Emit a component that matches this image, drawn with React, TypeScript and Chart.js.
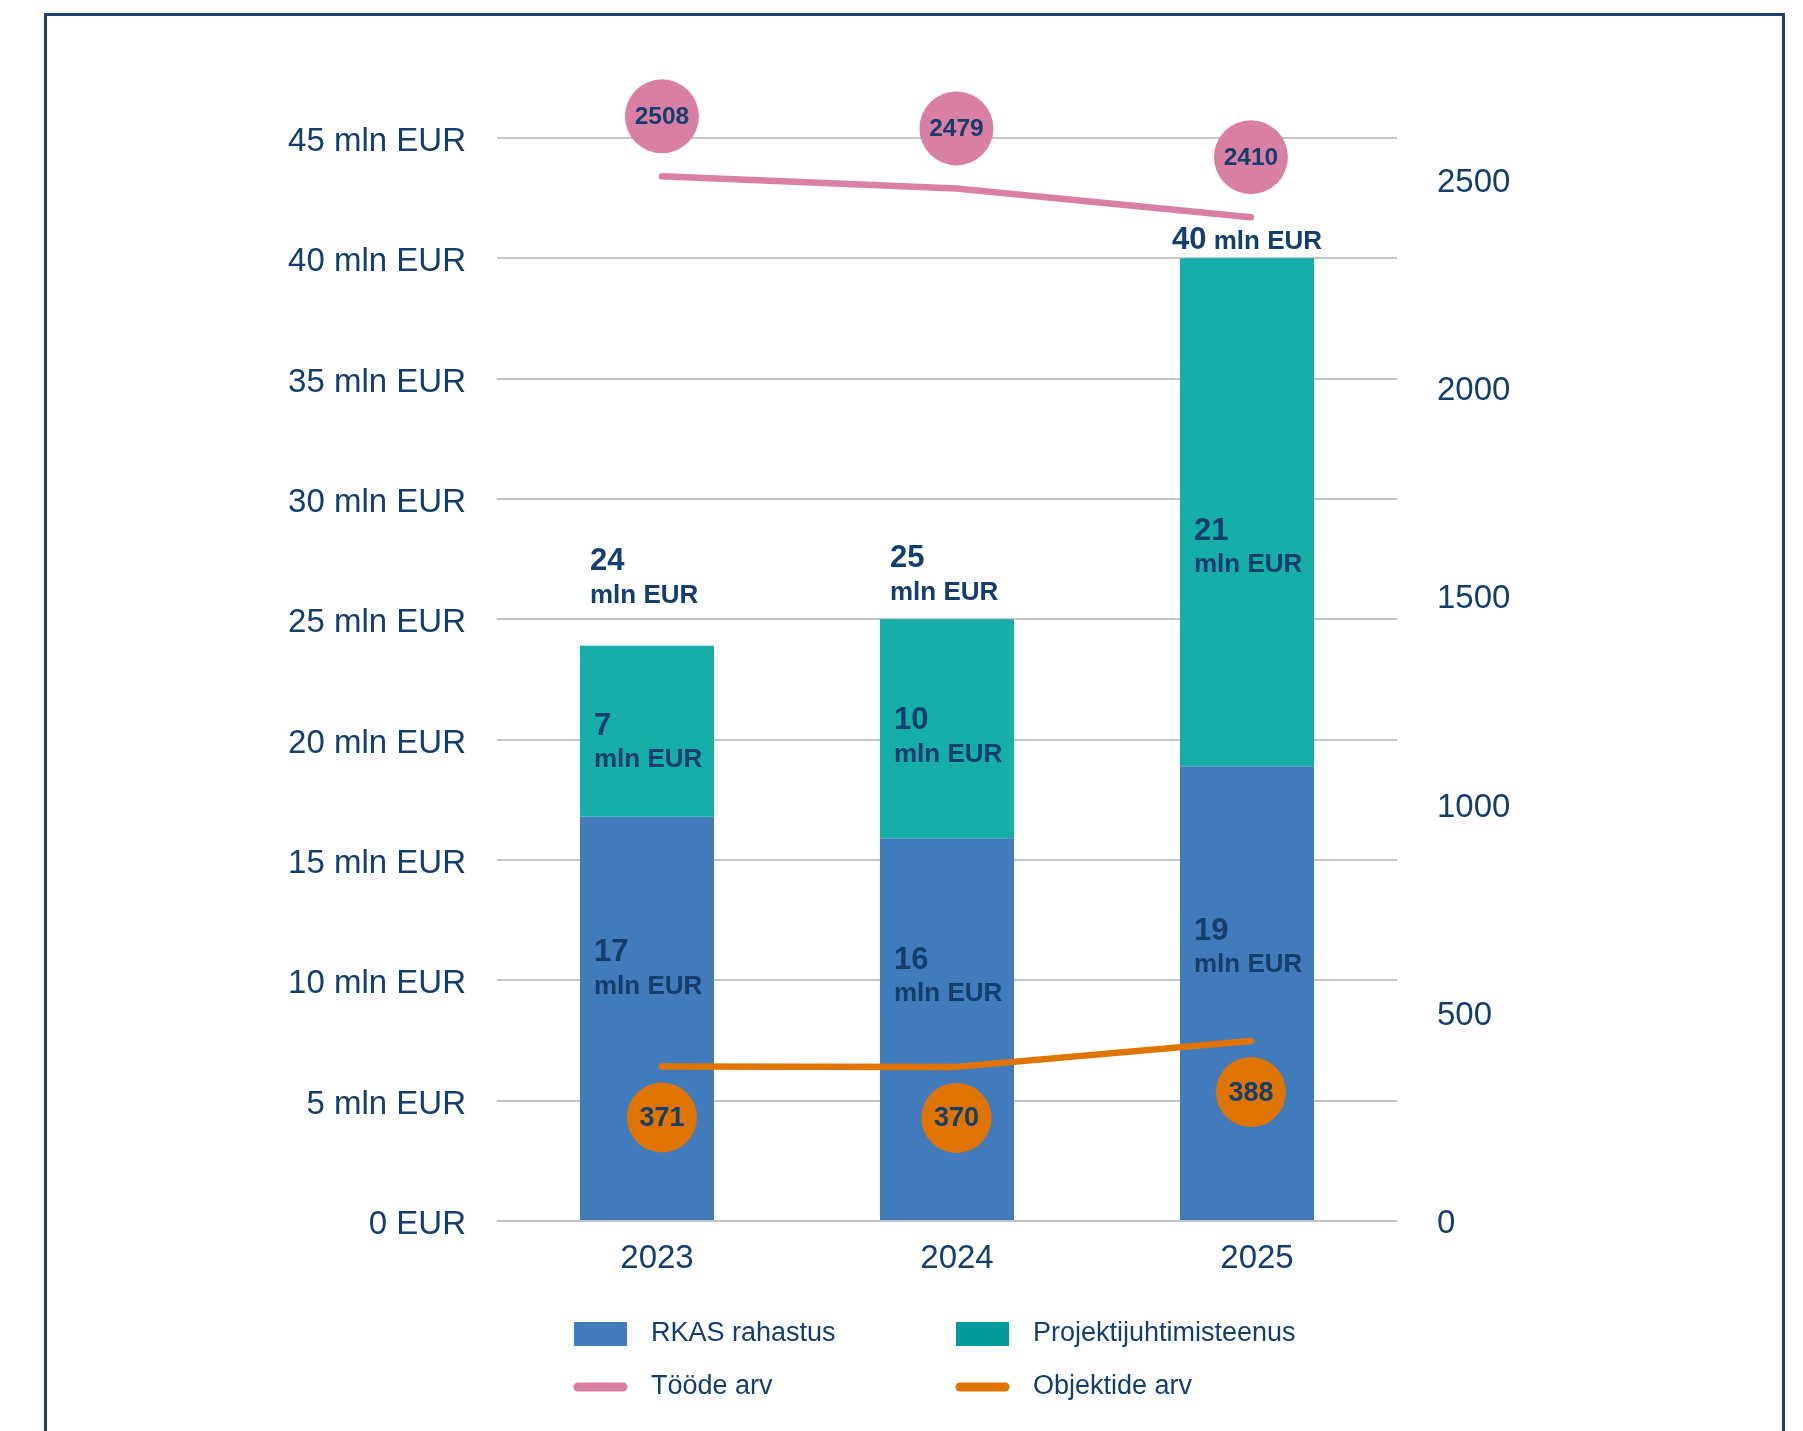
import React, { useEffect, useRef } from "react";
import { Chart, registerables } from "chart.js";

Chart.register(...registerables);

// ---- data ----
const years = ["2023", "2024", "2025"];
const rkasRahastus = [16.8, 15.9, 18.9];
const projektijuhtimisteenus = [7.1, 9.1, 21.1];
const toodeArv = [2508, 2479, 2410];
const objektideArv = [371, 370, 432];

const rkasSildid = ["17", "16", "19"];
const projektSildid = ["7", "10", "21"];
const kokkuSildid = ["24", "25", "40"];
const toodeSildid = ["2508", "2479", "2410"];
const objektideSildid = ["371", "370", "388"];

const leftAxisMax = 45;
const leftAxisStep = 5;
const rightAxisMax = 2600;
const rightTicks = [0, 500, 1000, 1500, 2000, 2500];

// ---- styles ----
const FONT = "'Liberation Sans', Arial, Helvetica, sans-serif";
const NAVY = "#143e6c";
const FRAME = "#1f3f6e";
const GRID = "#c3c6c6";
const BLUE = "#427bbb";
const TEAL = "#15aea9";
const TEAL_LEGEND = "#009b9a";
const PINK = "#d97fa3";
const ORANGE = "#e07400";

const labelPlugin = {
  id: "customLabels",
  afterDatasetsDraw(chart: any) {
    const ctx = chart.ctx;
    ctx.save();
    ctx.fillStyle = NAVY;
    const segShift: Record<number, number[]> = { 0: [-49, -52, -45], 1: [12, 9, 36] };
    const segTexts: Record<number, string[]> = { 0: rkasSildid, 1: projektSildid };
    [0, 1].forEach((di) => {
      const meta = chart.getDatasetMeta(di);
      meta.data.forEach((el: any, i: number) => {
        const p = el.getProps(["x", "y", "base", "width"], true);
        const left = p.x - p.width / 2 + 14;
        const cy = (p.y + p.base) / 2 + segShift[di][i];
        ctx.textAlign = "left";
        ctx.textBaseline = "middle";
        ctx.font = `bold 31px ${FONT}`;
        ctx.fillText(segTexts[di][i], left, cy - 17);
        ctx.font = `bold 26px ${FONT}`;
        ctx.fillText("mln EUR", left, cy + 17);
      });
    });
    // totals
    const topMeta = chart.getDatasetMeta(1);
    const totalGap = [50, 27, 20];
    const inline = [false, false, true];
    topMeta.data.forEach((el: any, i: number) => {
      const p = el.getProps(["x", "y", "base", "width"], true);
      if (inline[i]) {
        ctx.textBaseline = "alphabetic";
        ctx.font = `bold 31px ${FONT}`;
        const w1 = ctx.measureText(kokkuSildid[i]).width;
        ctx.font = `bold 26px ${FONT}`;
        const w2 = ctx.measureText(" mln EUR").width;
        const start = p.x - (w1 + w2) / 2;
        const base = p.y - totalGap[i] + 11;
        ctx.textAlign = "left";
        ctx.font = `bold 31px ${FONT}`;
        ctx.fillText(kokkuSildid[i], start, base);
        ctx.font = `bold 26px ${FONT}`;
        ctx.fillText(" mln EUR", start + w1, base);
      } else {
        const left = p.x - p.width / 2 + 10;
        ctx.textAlign = "left";
        ctx.textBaseline = "middle";
        ctx.font = `bold 31px ${FONT}`;
        ctx.fillText(kokkuSildid[i], left, p.y - totalGap[i] - 34);
        ctx.font = `bold 26px ${FONT}`;
        ctx.fillText("mln EUR", left, p.y - totalGap[i]);
      }
    });
    // bubbles
    const bubbles = [
      { di: 2, texts: toodeSildid, color: PINK, r: 37, dy: -60, size: 24.5 },
      { di: 3, texts: objektideSildid, color: ORANGE, r: 35, dy: 51, size: 27 },
    ];
    bubbles.forEach((b) => {
      const meta = chart.getDatasetMeta(b.di);
      meta.data.forEach((pt: any, i: number) => {
        const x = pt.x;
        const y = pt.y + b.dy;
        ctx.beginPath();
        ctx.arc(x, y, b.r, 0, Math.PI * 2);
        ctx.fillStyle = b.color;
        ctx.fill();
        ctx.fillStyle = NAVY;
        ctx.textAlign = "center";
        ctx.textBaseline = "middle";
        ctx.font = `bold ${b.size}px ${FONT}`;
        ctx.fillText(b.texts[i], x, y + 1);
      });
    });
    ctx.restore();
  },
  afterDraw(chart: any) {
    const ctx = chart.ctx;
    const ds = chart.data.datasets;
    const items = [
      { text: ds[0].label, kind: "box", color: BLUE, col: 0, row: 0 },
      { text: ds[1].label, kind: "box", color: TEAL_LEGEND, col: 1, row: 0 },
      { text: ds[2].label, kind: "line", color: PINK, col: 0, row: 1 },
      { text: ds[3].label, kind: "line", color: ORANGE, col: 1, row: 1 },
    ];
    const colX = [574, 956];
    const rowY = [1334, 1387];
    ctx.save();
    items.forEach((it) => {
      const x = colX[it.col];
      const y = rowY[it.row];
      if (it.kind === "box") {
        ctx.fillStyle = it.color;
        ctx.fillRect(x, y - 12, 53, 24);
      } else {
        ctx.strokeStyle = it.color;
        ctx.lineWidth = 9;
        ctx.lineCap = "round";
        ctx.beginPath();
        ctx.moveTo(x + 4, y);
        ctx.lineTo(x + 49, y);
        ctx.stroke();
      }
      ctx.fillStyle = NAVY;
      ctx.font = `27px ${FONT}`;
      ctx.textAlign = "left";
      ctx.textBaseline = "middle";
      ctx.fillText(it.text, x + 77, y);
    });
    ctx.restore();
  },
};

export default function App() {
  const canvasRef = useRef<HTMLCanvasElement | null>(null);

  useEffect(() => {
    const canvas = canvasRef.current;
    if (!canvas) return;
    const chart = new Chart(canvas, {
      type: "bar",
      data: {
        labels: years,
        datasets: [
          {
            type: "bar",
            label: "RKAS rahastus",
            data: rkasRahastus,
            backgroundColor: BLUE,
            borderWidth: 0,
            barPercentage: 0.447,
            categoryPercentage: 1,
            grouped: false,
            xAxisID: "x",
            yAxisID: "y",
            order: 1,
          },
          {
            type: "bar",
            label: "Projektijuhtimisteenus",
            data: projektijuhtimisteenus,
            backgroundColor: TEAL,
            borderWidth: 0,
            barPercentage: 0.447,
            categoryPercentage: 1,
            grouped: false,
            xAxisID: "x",
            yAxisID: "y",
            order: 1,
          },
          {
            type: "line",
            label: "Tööde arv",
            data: toodeArv.map((v, i) => ({ x: i, y: v })),
            borderColor: PINK,
            backgroundColor: PINK,
            borderWidth: 6.5,
            borderCapStyle: "round",
            borderJoinStyle: "round",
            pointRadius: 0,
            tension: 0,
            fill: false,
            xAxisID: "x2",
            yAxisID: "y2",
            order: 0,
          },
          {
            type: "line",
            label: "Objektide arv",
            data: objektideArv.map((v, i) => ({ x: i, y: v })),
            borderColor: ORANGE,
            backgroundColor: ORANGE,
            borderWidth: 6.5,
            borderCapStyle: "round",
            borderJoinStyle: "round",
            pointRadius: 0,
            tension: 0,
            fill: false,
            xAxisID: "x2",
            yAxisID: "y2",
            order: 0,
          },
        ] as any,
      },
      options: {
        responsive: false,
        devicePixelRatio: 1,
        animation: false,
        layout: { padding: { top: 138, left: 0, right: 0, bottom: 150 } },
        plugins: {
          legend: { display: false },
          tooltip: { enabled: false },
        },
        scales: {
          x: {
            stacked: true,
            grid: { display: false, drawTicks: false },
            border: { display: false },
            ticks: {
              color: NAVY,
              font: { family: FONT, size: 33 },
              padding: 18,
              labelOffset: 10,
            },
            afterFit: (s: any) => {
              s.height = 60;
            },
          },
          x2: {
            type: "linear",
            display: false,
            offset: false,
            grace: 0,
            min: -0.56,
            max: 2.496,
          },
          y: {
            position: "left",
            stacked: true,
            min: 0,
            max: leftAxisMax,
            grid: { color: GRID, lineWidth: 2, drawTicks: false },
            border: { display: false },
            ticks: {
              stepSize: leftAxisStep,
              color: NAVY,
              font: { family: FONT, size: 33 },
              padding: 31,
              labelOffset: 4,
              callback: (v: any) => (Number(v) === 0 ? "0 EUR" : `${v} mln EUR`),
            },
            afterFit: (s: any) => {
              s.width = 497;
            },
          },
          y2: {
            position: "right",
            min: 0,
            max: rightAxisMax,
            grid: { display: false, drawTicks: false },
            border: { display: false },
            afterBuildTicks: (s: any) => {
              s.ticks = rightTicks.map((v) => ({ value: v }));
            },
            ticks: {
              color: NAVY,
              font: { family: FONT, size: 33 },
              padding: 40,
              labelOffset: 3,
              callback: (v: any) => String(v),
            },
            afterFit: (s: any) => {
              s.width = 406;
            },
          },
        },
      } as any,
      plugins: [labelPlugin],
    });
    return () => chart.destroy();
  }, []);

  return (
    <div
      style={{
        position: "absolute",
        left: 0,
        top: 0,
        width: 1803,
        height: 1431,
        overflow: "hidden",
        background: "#ffffff",
      }}
    >
      <div
        style={{
          position: "absolute",
          left: 44,
          top: 13,
          width: 1741,
          height: 1500,
          border: `3px solid ${FRAME}`,
          boxSizing: "border-box",
        }}
      />
      <canvas
        ref={canvasRef}
        width={1803}
        height={1431}
        style={{ position: "absolute", left: 0, top: 0, display: "block" }}
      />
    </div>
  );
}
